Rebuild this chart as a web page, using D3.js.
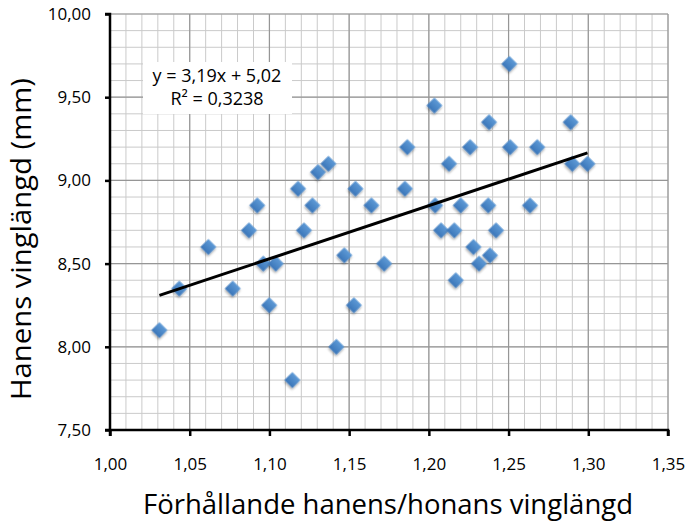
<!DOCTYPE html>
<html>
<head>
<meta charset="utf-8">
<script src="https://cdn.jsdelivr.net/npm/d3@7"></script>
<style>
  body { margin: 0; background: #fff; }
  text { font-family: "Open Sans", "Noto Sans", sans-serif; fill: #000; }
</style>
</head>
<body>
<div id="chart"></div>
<script>
// ---- data ----
const ratio = [1.031, 1.0435, 1.0617, 1.077, 1.0872, 1.0924, 1.0962, 1.0999, 1.104, 1.1144,
  1.118, 1.1217, 1.127, 1.1305, 1.137, 1.142, 1.147, 1.153, 1.154, 1.164,
  1.172, 1.185, 1.1865, 1.2035, 1.204, 1.2077, 1.2127, 1.216, 1.2169, 1.220,
  1.2259, 1.228, 1.2315, 1.2373, 1.2378, 1.2384, 1.2422, 1.2505, 1.251, 1.2635,
  1.268, 1.289, 1.290, 1.2995];
const wing = [8.10, 8.35, 8.60, 8.35, 8.70, 8.85, 8.50, 8.25, 8.50, 7.80,
  8.95, 8.70, 8.85, 9.05, 9.10, 8.00, 8.55, 8.25, 8.95, 8.85,
  8.50, 8.95, 9.20, 9.45, 8.85, 8.70, 9.10, 8.70, 8.40, 8.85,
  9.20, 8.60, 8.50, 8.85, 9.35, 8.55, 8.70, 9.70, 9.20, 8.85,
  9.20, 9.35, 9.10, 9.10];
const xTicks = [1.00, 1.05, 1.10, 1.15, 1.20, 1.25, 1.30, 1.35];
const yTicks = [7.50, 8.00, 8.50, 9.00, 9.50, 10.00];
const slope = 3.19, intercept = 5.02;
const eqLines = ["y = 3,19x + 5,02", "R² = 0,3238"];
const xTitle = "Förhållande hanens/honans vinglängd";
const yTitle = "Hanens vinglängd (mm)";

const points = ratio.map((r, i) => ({ x: r, y: wing[i] }));

const width = 685, height = 521;
const svg = d3.select("#chart").append("svg")
  .attr("width", width)
  .attr("height", height);

const x = d3.scaleLinear().domain([1.00, 1.35]).range([110, 668]);
const y = d3.scaleLinear().domain([7.50, 10.00]).range([430, 14]);

const comma = v => d3.format(".2f")(v).replace(".", ",");

// gradient for the diamonds
const defs = svg.append("defs");
const grad = defs.append("linearGradient").attr("id", "blue")
  .attr("x1", 0).attr("y1", 0).attr("x2", 0).attr("y2", 1);
grad.append("stop").attr("offset", "0%").attr("stop-color", "#5e9ad6");
grad.append("stop").attr("offset", "100%").attr("stop-color", "#3b76b9");
const shadow = defs.append("filter").attr("id", "shadow")
  .attr("x", "-50%").attr("y", "-50%").attr("width", "200%").attr("height", "200%");
shadow.append("feDropShadow").attr("dx", 1).attr("dy", 1.5).attr("stdDeviation", 1)
  .attr("flood-color", "#000").attr("flood-opacity", 0.35);

// grid: minor then major
const minorX = d3.range(100, 136).map(v => v / 100);
const minorY = d3.range(75, 101).map(v => v / 10);
const grid = svg.append("g");
grid.selectAll(".mx").data(minorX).enter().append("line")
  .attr("x1", d => x(d)).attr("x2", d => x(d))
  .attr("y1", y.range()[1]).attr("y2", y.range()[0])
  .attr("stroke", "#cacaca").attr("stroke-width", 1);
grid.selectAll(".my").data(minorY).enter().append("line")
  .attr("x1", x.range()[0]).attr("x2", x.range()[1])
  .attr("y1", d => y(d)).attr("y2", d => y(d))
  .attr("stroke", "#cacaca").attr("stroke-width", 1);
grid.selectAll(".Mx").data(xTicks).enter().append("line")
  .attr("x1", d => x(d)).attr("x2", d => x(d))
  .attr("y1", y.range()[1]).attr("y2", y.range()[0])
  .attr("stroke", "#969696").attr("stroke-width", 1.2);
grid.selectAll(".My").data(yTicks).enter().append("line")
  .attr("x1", x.range()[0]).attr("x2", x.range()[1])
  .attr("y1", d => y(d)).attr("y2", d => y(d))
  .attr("stroke", "#969696").attr("stroke-width", 1.2);

// axes
const xAxis = svg.append("g")
  .attr("transform", `translate(0,${y(7.5)})`)
  .call(d3.axisBottom(x).tickValues(xTicks).tickFormat(comma).tickSize(6).tickPadding(22));
const yAxis = svg.append("g")
  .attr("transform", `translate(${x(1.0)},0)`)
  .call(d3.axisLeft(y).tickValues(yTicks).tickFormat(comma).tickSize(5).tickPadding(14));
[xAxis, yAxis].forEach(a => {
  a.select(".domain").attr("stroke", "#000").attr("stroke-width", 2.5);
  a.selectAll(".tick line").attr("stroke", "#000").attr("stroke-width", 2.5);
  a.selectAll(".tick text").attr("font-size", 17).attr("font-family", "Open Sans, sans-serif");
});
xAxis.select(".domain").attr("d", `M${x.range()[0]},6V0H${x.range()[1]}V6`);
yAxis.select(".domain").attr("d", `M-5,${y.range()[0]}H0V${y.range()[1]}H-5`);

// points
svg.append("g").selectAll("path").data(points).enter().append("path")
  .attr("d", d3.symbol(d3.symbolSquare, 126))
  .attr("transform", d => `translate(${x(d.x)},${y(d.y)}) rotate(45)`)
  .attr("fill", "url(#blue)")
  .attr("filter", "url(#shadow)");

// trendline over the data range
const xMin = d3.min(ratio), xMax = d3.max(ratio);
svg.append("line")
  .attr("x1", x(xMin)).attr("y1", y(slope * xMin + intercept))
  .attr("x2", x(xMax)).attr("y2", y(slope * xMax + intercept))
  .attr("stroke", "#000").attr("stroke-width", 3);

// equation label
const lab = svg.append("g");
lab.append("rect").attr("x", 143).attr("y", 62).attr("width", 149).attr("height", 52)
  .attr("fill", "#fff");
lab.selectAll("text").data(eqLines).enter().append("text")
  .attr("x", 217).attr("y", (d, i) => 82 + i * 23)
  .attr("text-anchor", "middle").attr("font-size", 18)
  .text(d => d);

// axis titles
svg.append("text")
  .attr("x", 388).attr("y", 514)
  .attr("text-anchor", "middle").attr("font-size", 27)
  .attr("textLength", 490).attr("lengthAdjust", "spacingAndGlyphs")
  .text(xTitle);
svg.append("text")
  .attr("transform", "translate(31,239) rotate(-90)")
  .attr("text-anchor", "middle").attr("font-size", 27)
  .attr("textLength", 322).attr("lengthAdjust", "spacingAndGlyphs")
  .text(yTitle);
</script>
</body>
</html>
